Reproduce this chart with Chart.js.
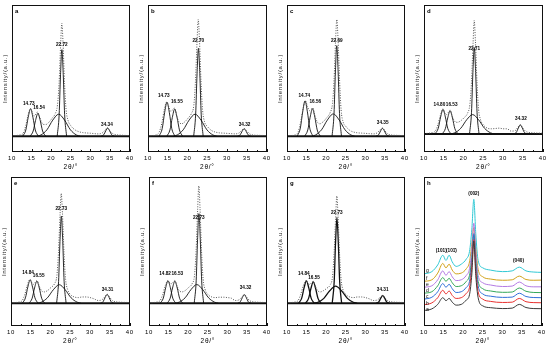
<!DOCTYPE html>
<html><head><meta charset="utf-8">
<script src="https://cdn.jsdelivr.net/npm/chart.js@4.4.1/dist/chart.umd.min.js"></script>
<style>
html,body{margin:0;padding:0;background:#fff;}
body{width:550px;height:353px;position:relative;overflow:hidden;}
canvas{position:absolute;}
</style></head><body>
<script>
const FONT = '"Liberation Sans",Arial,sans-serif';
const X_TICKS = [10,15,20,25,30,35,40];
const BASE = [[10,0],[40,0]];

// ---------- panel a ----------
const aP1 = [[12.73,0],[13.53,4.8],[14.13,14.5],[14.73,21],[15.33,14.5],[15.93,4.8],[16.73,0]];
const aP2 = [[14.6,0],[15.4,4],[16.0,12],[16.6,17.4],[17.2,12],[17.8,4],[18.6,0]];
const aBr = [[16.4,0],[17.4,1],[18.9,4.9],[20.4,12.3],[21.9,16.8],[23.4,12.3],[24.9,4.9],[26.4,1],[27.4,0]];
const aMn = [[21.52,0],[22.02,16.5],[22.37,47],[22.72,66],[23.07,47],[23.42,16.5],[23.92,0]];
const aP4 = [[32.7,0],[33.4,1.2],[33.9,4.1],[34.4,6.2],[34.9,4.1],[35.4,1.2],[36.1,0]];
const aExp = [[10,0.3],[11,0.5],[12,1],[12.8,2],[13.5,8],[14.0,15],[14.5,20],[14.8,21],[15.3,17],[15.7,15.5],[16.1,17],[16.5,18.5],[17.0,15],[17.5,11],[18.0,9],[18.7,9],[19.5,11],[20.3,14],[21.0,17],[21.6,24],[22.0,40],[22.4,70],[22.7,86],[23.0,72],[23.4,40],[23.8,20],[24.3,12],[25,8],[26,5],[27,3.5],[28,2.8],[29,2.5],[30,2.3],[31,2],[32,1.8],[33,2.5],[33.7,4.5],[34.3,6.5],[35,4],[35.7,2],[36.5,1.2],[38,0.8],[40,0.5]];
const aLab = ['14.73','16.54','22.72','34.34'];
const aLabX = [14.3,16.9,22.7,34.2];
const aLabY = [23,19.5,68,7];

// ---------- panel b ----------
const bP1 = [[12.8,0],[13.6,6],[14.2,18],[14.8,26],[15.4,18],[16.0,6],[16.8,0]];
const bP2 = [[14.75,0],[15.55,4.8],[16.15,14.3],[16.75,20.7],[17.35,14.3],[17.95,4.8],[18.75,0]];
const bBr = [[16.4,0],[17.4,1],[18.9,4.9],[20.4,12.3],[21.9,16.8],[23.4,12.3],[24.9,4.9],[26.4,1],[27.4,0]];
const bMn = [[21.55,0],[22.05,16.8],[22.4,47.6],[22.75,67],[23.1,47.6],[23.45,16.8],[23.95,0]];
const bP4 = [[32.6,0],[33.3,1.1],[33.8,3.8],[34.3,5.7],[34.8,3.8],[35.3,1.1],[36.0,0]];
const bExp = [[10,0.3],[11,0.5],[12,1],[12.8,3],[13.5,10],[14.1,20],[14.7,26],[15.2,23],[15.7,19],[16.2,20],[16.7,21.5],[17.2,16],[17.8,11],[18.5,9.5],[19.3,11],[20.2,14],[21,17.5],[21.6,24],[22.0,42],[22.4,72],[22.7,89],[23.0,74],[23.4,42],[23.8,20],[24.3,11],[25,7.5],[26,4.5],[27,3.2],[28,2.6],[29,2.4],[30,2.2],[31,2],[32,1.8],[33,2.5],[33.7,4.5],[34.3,6],[35,3.8],[35.7,1.8],[36.5,1],[38,0.7],[40,0.5]];
const bLab = ['14.73','16.55','22.70','34.32'];
const bLabX = [14.0,17.3,22.7,34.4];
const bLabY = [29,24,71,7];

// ---------- panel c ----------
const cP1 = [[12.6,0],[13.4,6.2],[14.0,18.6],[14.6,27],[15.2,18.6],[15.8,6.2],[16.6,0]];
const cP2 = [[14.5,0],[15.3,4.8],[15.9,14.5],[16.5,21],[17.1,14.5],[17.7,4.8],[18.5,0]];
const cBr = [[16.3,0],[17.3,1],[18.8,4.9],[20.3,12.4],[21.8,17],[23.3,12.4],[24.8,4.9],[26.3,1],[27.3,0]];
const cMn = [[21.49,0],[21.99,17.3],[22.34,49],[22.69,69],[23.04,49],[23.39,17.3],[23.89,0]];
const cP4 = [[32.65,0],[33.35,1.1],[33.85,4],[34.35,6],[34.85,4],[35.35,1.1],[36.05,0]];
const cExp = [[10,0.3],[11,0.5],[12,1],[12.8,3],[13.5,11],[14.1,21],[14.7,27],[15.2,23],[15.7,19.5],[16.1,20.5],[16.6,21.5],[17.1,16],[17.7,11],[18.4,9.5],[19.2,11],[20.1,14],[21,18],[21.6,25],[22.0,43],[22.4,74],[22.7,89],[23.0,75],[23.4,43],[23.8,20],[24.3,11],[25,7.5],[26,4.5],[27,3.2],[28,2.6],[29,2.4],[30,2.2],[31,2],[32,1.8],[33,2.6],[33.7,4.8],[34.35,6.3],[35,4],[35.7,1.8],[36.5,1],[38,0.7],[40,0.5]];
const cLab = ['14.74','16.56','22.69','34.35'];
const cLabX = [14.4,17.2,22.7,34.4];
const cLabY = [29,24,71,8];

// ---------- panel d ----------
const dP1 = [[12.8,0],[13.6,4.4],[14.2,13.1],[14.8,19],[15.4,13.1],[16.0,4.4],[16.8,0]];
const dP2 = [[14.6,0],[15.4,4.1],[16.0,12.4],[16.6,18],[17.2,12.4],[17.8,4.1],[18.6,0]];
const dBr = [[16.8,0],[17.8,0.9],[19.3,4.4],[20.8,11],[22.3,15],[23.8,11],[25.3,4.4],[26.8,0.9],[27.8,0]];
const dMn = [[21.51,0],[22.01,16.8],[22.36,47.6],[22.71,67],[23.06,47.6],[23.41,16.8],[23.91,0]];
const dP4 = [[32.65,0],[33.35,1.3],[33.85,4.6],[34.35,7],[34.85,4.6],[35.35,1.3],[36.05,0]];
const dExp = [[10,0.3],[11,0.5],[12,1],[12.8,2],[13.5,7],[14.1,14],[14.8,19.5],[15.3,16],[15.7,15],[16.1,16.5],[16.6,18.5],[17.1,14],[17.7,10],[18.4,9],[19.2,10],[20.1,12.5],[21,16],[21.6,23],[22.0,40],[22.4,70],[22.7,88],[23.0,72],[23.4,40],[23.8,19],[24.3,11],[25,7],[26,4.5],[27,4],[28,4.2],[29,4.5],[30,4],[31,4],[32,2.2],[33,2.5],[33.7,5],[34.3,7.2],[35,4.5],[35.7,2],[36.5,1.2],[38,0.8],[40,0.6]];
const dLab = ['14.80','16.53','22.71','34.32'];
const dLabX = [13.9,17.0,22.7,34.5];
const dLabY = [21,21,64,10];

// ---------- panel e ----------
const eP1 = [[12.85,0],[13.65,4.3],[14.25,12.8],[14.85,18.5],[15.45,12.8],[16.05,4.3],[16.85,0]];
const eP2 = [[14.55,0],[15.35,4],[15.95,12.1],[16.55,17.5],[17.15,12.1],[17.75,4],[18.55,0]];
const eBr = [[16.7,0],[17.7,0.9],[19.2,4.3],[20.7,10.7],[22.2,14.7],[23.7,10.7],[25.2,4.3],[26.7,0.9],[27.7,0]];
const eMn = [[21.53,0],[22.03,17.3],[22.38,49],[22.73,69],[23.08,49],[23.43,17.3],[23.93,0]];
const eP4 = [[32.6,0],[33.3,1.3],[33.8,4.6],[34.3,7],[34.8,4.6],[35.3,1.3],[36.0,0]];
const eExp = [[10,0.3],[11,0.5],[12,1],[12.8,2],[13.5,7],[14.1,14],[14.8,19],[15.3,16],[15.7,15],[16.1,16.5],[16.6,18],[17.1,14],[17.7,10],[18.4,9],[19.2,10],[20.1,12.5],[21,15.5],[21.6,22],[22.0,40],[22.4,70],[22.7,87],[23.0,72],[23.4,40],[23.8,19],[24.3,11],[25,7],[26,5],[27,4.5],[28,5],[29,5],[30,4.5],[31,3.5],[32,2.2],[33,2.8],[33.7,5],[34.3,7.2],[35,4.5],[35.7,2],[36.5,1.2],[38,0.8],[40,0.6]];
const eLab = ['14.84','16.55','22.73','34.31'];
const eLabX = [14.3,17.0,22.7,34.4];
const eLabY = [22,20,73,9];

// ---------- panel f ----------
const fP1 = [[12.85,0],[13.65,4.1],[14.25,12.3],[14.85,17.8],[15.45,12.3],[16.05,4.1],[16.85,0]];
const fP2 = [[14.6,0],[15.4,4],[16.0,12.1],[16.6,17.5],[17.2,12.1],[17.8,4],[18.6,0]];
const fBr = [[16.7,0],[17.7,0.9],[19.2,4.3],[20.7,10.8],[22.2,14.8],[23.7,10.8],[25.2,4.3],[26.7,0.9],[27.7,0]];
const fMn = [[21.53,0],[22.03,17.8],[22.38,50.4],[22.73,71],[23.08,50.4],[23.43,17.8],[23.93,0]];
const fP4 = [[32.6,0],[33.3,1.3],[33.8,4.5],[34.3,6.8],[34.8,4.5],[35.3,1.3],[36.0,0]];
const fExp = [[10,0.3],[11,0.5],[12,1],[12.8,2],[13.5,7],[14.1,13.5],[14.8,18],[15.3,16],[15.7,15.5],[16.1,16.5],[16.6,18],[17.1,14],[17.7,10],[18.4,9],[19.2,10],[20.1,12.5],[21,15.5],[21.6,22],[22.0,41],[22.4,74],[22.7,93],[23.0,76],[23.4,41],[23.8,19],[24.3,11],[25,7],[26,5],[27,4.5],[28,4.8],[29,4.8],[30,4.5],[31,4],[32,2.2],[33,2.8],[33.7,5],[34.3,7],[35,4.5],[35.7,2],[36.5,1.2],[38,0.8],[40,0.6]];
const fLab = ['14.82','16.53','22.73','34.32'];
const fLabX = [14.1,17.2,22.7,34.6];
const fLabY = [21,21,66,10];

// ---------- panel g ----------
const gP1 = [[12.95,0],[13.75,4.1],[14.35,12.2],[14.95,17.7],[15.55,12.2],[16.15,4.1],[16.95,0]];
const gP2 = [[14.7,0],[15.5,3.9],[16.1,11.7],[16.7,17],[17.3,11.7],[17.9,3.9],[18.7,0]];
const gBr = [[16.9,0],[17.9,0.8],[19.4,3.9],[20.9,9.9],[22.4,13.6],[23.9,9.9],[25.4,3.9],[26.9,0.8],[27.9,0]];
const gMn = [[21.53,0],[22.03,17],[22.38,48.3],[22.73,68],[23.08,48.3],[23.43,17],[23.93,0]];
const gP4 = [[32.7,0],[33.4,1.1],[33.9,4],[34.4,6],[34.9,4],[35.4,1.1],[36.1,0]];
const gExp = [[10,0.3],[11,0.5],[12,1],[12.8,2],[13.5,7],[14.1,13.5],[14.9,18],[15.4,15.5],[15.8,15],[16.2,16],[16.7,17.5],[17.2,13.5],[17.8,10],[18.5,9],[19.3,10],[20.2,12],[21,14.5],[21.6,21],[22.0,39],[22.4,68],[22.7,85],[23.0,70],[23.4,39],[23.8,18.5],[24.3,10.5],[25,7],[26,5],[27,4.5],[28,5],[29,5],[30,4.5],[31,3.5],[32,2.2],[33,2.6],[33.7,4.5],[34.4,6.3],[35,4.2],[35.7,2],[36.5,1.2],[38,0.8],[40,0.6]];
const gLab = ['14.84','16.55','22.73','34.31'];
const gLabX = [14.3,16.9,22.7,34.4];
const gLabY = [21,18.5,70,9];

// ---------- panel h (stacked patterns a..g) ----------
const hNames = ['a','b','c','d','e','f','g'];
const hColors = ['#3a3a3a','#e8312f','#2f6fd8','#35a85a','#b47be3','#d1a21a','#30c8d4'];
const hA = [[10,10.4],[12,11.5],[13.5,14.5],[14.8,19],[15.6,17],[16.4,18.5],[17.2,16],[18.2,14],[19.5,14.5],[20.8,17.5],[21.6,21],[22.2,35],[22.7,57],[23.2,34],[23.8,19],[25,13.5],[27,12.3],[30,11.7],[32.5,12],[34.3,14.5],[36,12.4],[38,11.7],[40,11.6]];
const hB = [[10,14.3],[12,15.5],[13.5,19],[14.8,24],[15.6,21.5],[16.4,23.5],[17.2,20.5],[18.2,18.5],[19.5,19],[20.8,22],[21.6,26],[22.2,40],[22.7,58],[23.2,38],[23.8,23],[25,18],[27,16.5],[30,15.8],[32.5,16],[34.3,18.5],[36,16.3],[38,15.7],[40,15.6]];
const hC = [[10,18],[12,19.3],[13.5,23],[14.8,28.5],[15.6,26],[16.4,28],[17.2,25],[18.2,22.5],[19.5,23],[20.8,26],[21.6,30],[22.2,44],[22.7,62],[23.2,42],[23.8,27],[25,21.5],[27,20],[30,19.2],[32.5,19.4],[34.3,22],[36,19.8],[38,19.1],[40,19]];
const hD = [[10,22],[12,23],[13.5,27],[14.8,32.5],[15.6,30],[16.4,32],[17.2,29],[18.2,26.5],[19.5,27],[20.8,30],[21.6,34],[22.2,46],[22.7,61],[23.2,44],[23.8,30],[25,25],[27,23.5],[30,22.6],[32.5,22.8],[34.3,25.5],[36,23.3],[38,22.5],[40,22.4]];
const hE = [[10,26],[12,27],[13.5,31],[14.8,37],[15.6,34],[16.4,36.5],[17.2,33],[18.2,30.5],[19.5,31],[20.8,34],[21.6,38.5],[22.2,52],[22.7,69],[23.2,50],[23.8,34],[25,29],[27,27.5],[30,26.5],[32.5,26.8],[34.3,29.5],[36,27],[38,26.3],[40,26.3]];
const hF = [[10,30],[12,31],[13.5,35.5],[14.8,42],[15.6,39],[16.4,41.5],[17.2,37.5],[18.2,35],[19.5,35.5],[20.8,38.5],[21.6,43],[22.2,55],[22.7,66],[23.2,52],[23.8,38],[25,33],[27,31.5],[30,30.7],[32.5,31],[34.3,33.5],[36,31.2],[38,30.7],[40,30.8]];
const hG = [[10,35],[12,36.5],[13.5,41],[14.8,47.5],[15.6,44],[16.4,47.5],[17.2,43],[18.2,40],[19.5,41.5],[20.8,45],[21.6,50],[22.2,65],[22.7,85],[23.2,62],[23.8,44],[25,39],[27,37.5],[30,36.5],[32.5,37],[34.3,39.5],[36,37],[38,36.2],[40,36]];
const hSeries = [hA,hB,hC,hD,hE,hF,hG];
const hNameY = [11,15,19.5,24,28,32,37];
const hLab = ['(101)','(101\u0304)','(002)','(040)'];
const hLabX = [14.4,17.0,22.7,34.1];
const hLabY = [49,49,87,42];

const toXY = arr => arr.map(p => ({x:p[0], y:p[1]}));

function condensedText(ctx, txt, px, py, sx){
  ctx.save();
  ctx.translate(px, py);
  ctx.scale(sx, 1);
  ctx.fillText(txt, 0, 0);
  ctx.restore();
}

const spacing = {
  id:'spacing',
  beforeDraw(chart){ chart.ctx.letterSpacing = '0.7px'; }
};

const deco = {
  id:'deco',
  afterDraw(chart, args, o){
    const {ctx, chartArea:a, scales:{x,y}} = chart;
    ctx.save();
    ctx.letterSpacing = '0px';
    ctx.strokeStyle = '#111'; ctx.lineWidth = 1;
    ctx.strokeRect(Math.round(a.left)+0.5, Math.round(a.top)+0.5, Math.round(a.right-a.left)-1, Math.round(a.bottom-a.top)-1);
    ctx.beginPath();
    for (let i=0;i<X_TICKS.length;i++){
      const px = Math.round(x.getPixelForValue(X_TICKS[i]))+0.5;
      ctx.moveTo(px, a.bottom); ctx.lineTo(px, a.bottom-3);
      if (i < X_TICKS.length-1){
        const m = Math.round(x.getPixelForValue((X_TICKS[i]+X_TICKS[i+1])/2))+0.5;
        ctx.moveTo(m, a.bottom); ctx.lineTo(m, a.bottom-2);
      }
    }
    ctx.stroke();
    ctx.fillStyle = '#000';
    ctx.font = 'bold 6px ' + FONT;
    ctx.textAlign = 'left'; ctx.textBaseline = 'top';
    ctx.fillText(o.letter, a.left+3, a.top+3);
    ctx.font = 'bold 6px ' + FONT;
    ctx.textAlign = 'center'; ctx.textBaseline = 'bottom';
    for (let i=0;i<o.lab.length;i++){
      condensedText(ctx, o.lab[i], x.getPixelForValue(o.labX[i]), y.getPixelForValue(o.labY[i]), 0.78);
    }
    if (o.names){
      ctx.font = '5px ' + FONT;
      ctx.textAlign = 'left'; ctx.textBaseline = 'middle';
      for (let i=0;i<o.names.length;i++){
        ctx.fillText(o.names[i], a.left+2, y.getPixelForValue(o.nameY[i]));
      }
    }
    ctx.restore();
  }
};

const YW = 10, XH = 20;

function makePanel(frame, ymin, datasets, decoOpts){
  const [L,T,R,B] = frame;
  const cv = document.createElement('canvas');
  cv.width = YW + (R-L) + 1;
  cv.height = 1 + (B-T) + XH;
  cv.style.left = (L-YW)+'px';
  cv.style.top = (T-1)+'px';
  document.body.appendChild(cv);
  new Chart(cv, {
    type:'line',
    data:{datasets},
    options:{
      responsive:false, animation:false, devicePixelRatio:1,
      layout:{padding:{top:1,right:1,left:0,bottom:0}},
      plugins:{legend:{display:false}, tooltip:{enabled:false}, deco:decoOpts},
      elements:{point:{radius:0}, line:{cubicInterpolationMode:'monotone'}},
      scales:{
        x:{type:'linear', min:10, max:40,
           grid:{display:false, drawTicks:false}, border:{display:false},
           afterBuildTicks:(s)=>{ s.ticks = X_TICKS.map(v=>({value:v})); },
           ticks:{font:{size:6, family:FONT}, color:'#000', padding:3, maxRotation:0, autoSkip:false},
           title:{display:true, text:'2θ/°', font:{size:6.5, family:FONT}, color:'#000', padding:{top:1,bottom:1}},
           afterFit:(s)=>{ s.height = XH; }},
        y:{min:ymin, max:100,
           grid:{display:false, drawTicks:false}, border:{display:false},
           ticks:{display:false},
           title:{display:true, text:'Intensity/(a.u.)', font:{size:6, family:FONT}, color:'#222', padding:0},
           afterFit:(s)=>{ s.width = YW; }}
      }
    },
    plugins:[spacing, deco]
  });
}

function fitPanel(frame, ymin, letter, peaks, exp, lab, labX, labY, thick){
  const ds = [];
  ds.push({data:toXY(exp), borderColor:'#555', borderWidth:1, borderDash:[1,1.5], fill:false});
  peaks.forEach(p => ds.push({data:toXY(p), borderColor:'#111', borderWidth:thick?1.3:0.9, fill:false}));
  ds.push({data:toXY(BASE), borderColor:'#111', borderWidth:2, fill:false});
  makePanel(frame, ymin, ds, {letter, lab, labX, labY});
}

fitPanel([12,5,135,152], -12, 'a', [aP1,aP2,aBr,aMn,aP4], aExp, aLab, aLabX, aLabY, false);
fitPanel([148,5,272,152], -12, 'b', [bP1,bP2,bBr,bMn,bP4], bExp, bLab, bLabX, bLabY, false);
fitPanel([287,5,410,152], -12, 'c', [cP1,cP2,cBr,cMn,cP4], cExp, cLab, cLabX, cLabY, false);
fitPanel([424,5,548,152], -14, 'd', [dP1,dP2,dBr,dMn,dP4], dExp, dLab, dLabX, dLabY, false);
fitPanel([11,177,135,326], -18, 'e', [eP1,eP2,eBr,eMn,eP4], eExp, eLab, eLabX, eLabY, false);
fitPanel([149,177,272,326], -18, 'f', [fP1,fP2,fBr,fMn,fP4], fExp, fLab, fLabX, fLabY, false);
fitPanel([287,177,410,326], -18, 'g', [gP1,gP2,gBr,gMn,gP4], gExp, gLab, gLabX, gLabY, true);

const hDs = hSeries.map((s,i) => ({data:toXY(s), borderColor:hColors[i], borderWidth:1, fill:false}));
makePanel([424,177,547,326], 0, hDs, {letter:'h', lab:hLab, labX:hLabX, labY:hLabY, names:hNames, nameY:hNameY});
</script>
</body></html>
